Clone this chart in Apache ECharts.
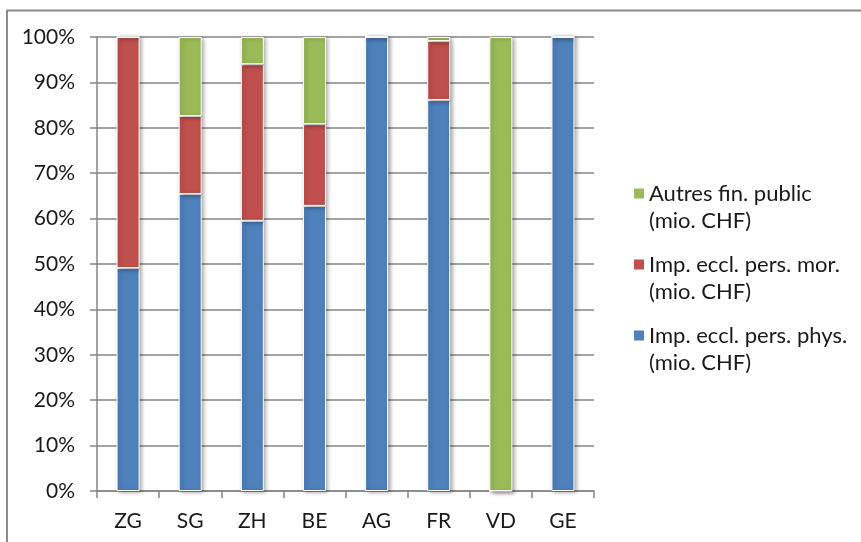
<!DOCTYPE html>
<html>
<head>
<meta charset="utf-8">
<script src="https://cdn.jsdelivr.net/npm/echarts@6/dist/echarts.min.js"></script>
<style>
html,body{margin:0;padding:0;background:#fff;}
#chart{width:861px;height:542px;}
</style>
</head>
<body>
<div id="chart"></div>
<script>
var categories = ['ZG','SG','ZH','BE','AG','FR','VD','GE'];
var physValues = [49.1, 65.4, 59.5, 62.8, 100, 86.1, 0, 100];
var morValues  = [50.9, 17.2, 34.5, 18.0, 0, 13.0, 0, 0];
var autresValues = [0, 17.4, 6.0, 19.2, 0, 0.9, 100, 0];
var seriesNames = ['Autres fin. public\n(mio. CHF)', 'Imp. eccl. pers. mor.\n(mio. CHF)', 'Imp. eccl. pers. phys.\n(mio. CHF)'];

var font = 'Lato, "Open Sans", sans-serif';
var chart = echarts.init(document.getElementById('chart'));
var barStyle = function(c){
  return {color:c, borderColor:'#fff', borderWidth:1, shadowBlur:4, shadowColor:'rgba(0,0,0,0.35)', shadowOffsetX:2, shadowOffsetY:1};
};
var iconPath = 'path://M0 0h10v10h-10z M0 37L10 37';
chart.setOption({
  animation:false,
  grid:{left:97, right:267, top:37, bottom:51},
  graphic:[
    {type:'line', shape:{x1:7, y1:10.5, x2:861, y2:10.5}, style:{stroke:'#8a8a8a', lineWidth:2}},
    {type:'line', shape:{x1:7, y1:10, x2:7, y2:542}, style:{stroke:'#8a8a8a', lineWidth:2}}
  ],
  legend:{
    orient:'vertical', left:634, top:180, itemGap:17, padding:0,
    itemWidth:10, itemHeight:37,
    itemStyle:{borderWidth:0, shadowBlur:0, shadowOffsetX:0, shadowOffsetY:0},
    data:[
      {name:seriesNames[0], icon:iconPath},
      {name:seriesNames[1], icon:iconPath},
      {name:seriesNames[2], icon:iconPath}
    ],
    textStyle:{fontFamily:font, fontSize:22, color:'#1a1a1a', lineHeight:27},
    selectedMode:false
  },
  xAxis:{
    type:'category', data:categories,
    axisLine:{lineStyle:{color:'#868686', width:1.5}},
    axisTick:{show:true, length:7, lineStyle:{color:'#868686', width:1.5}},
    axisLabel:{fontFamily:font, fontSize:21, color:'#1a1a1a', margin:20}
  },
  yAxis:{
    type:'value', min:0, max:100, interval:10,
    axisLine:{show:true, lineStyle:{color:'#868686', width:1.5}},
    axisTick:{show:true, length:7, lineStyle:{color:'#868686', width:1.5}},
    splitLine:{lineStyle:{color:'#868686', width:1.5}},
    axisLabel:{formatter:'{value}%', fontFamily:font, fontSize:21, color:'#1a1a1a', margin:22}
  },
  series:[
    {name:seriesNames[2], type:'bar', stack:'s', barWidth:23, data:physValues, itemStyle:barStyle('#4F81BD')},
    {name:seriesNames[1], type:'bar', stack:'s', barWidth:23, data:morValues, itemStyle:barStyle('#C0504D')},
    {name:seriesNames[0], type:'bar', stack:'s', barWidth:23, data:autresValues, itemStyle:barStyle('#9BBB59')}
  ]
});
</script>
</body>
</html>
